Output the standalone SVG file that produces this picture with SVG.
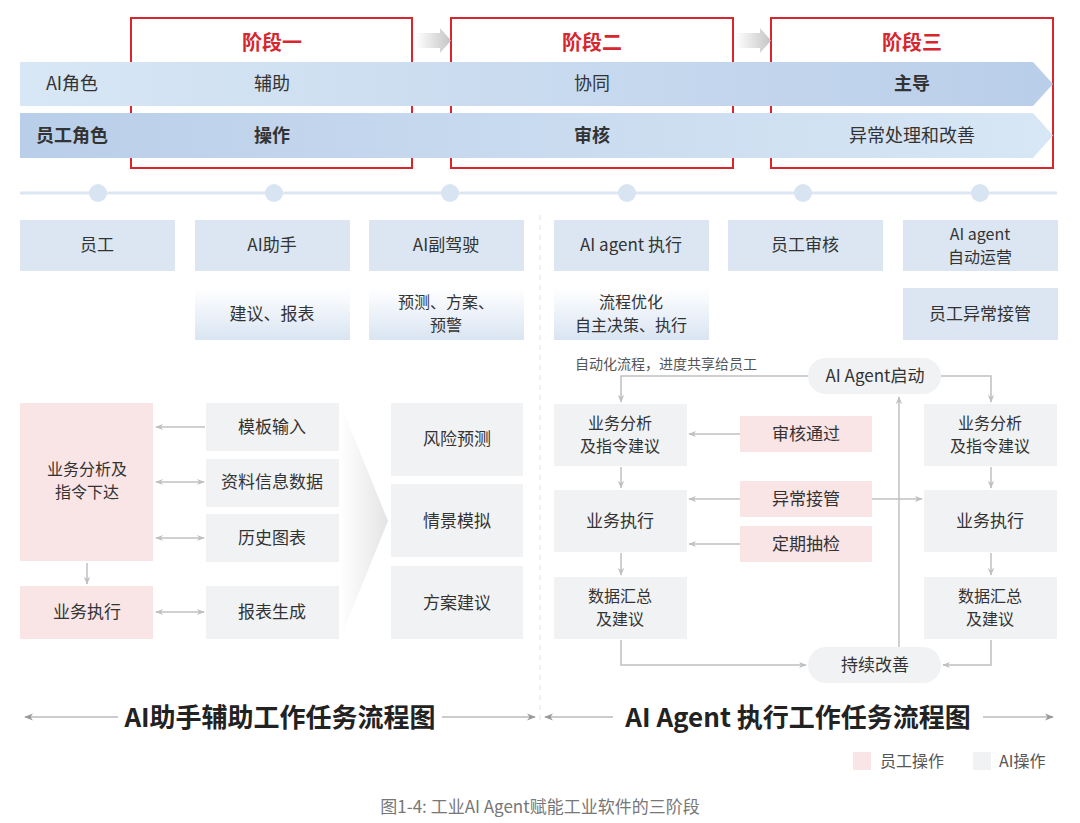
<svg xmlns="http://www.w3.org/2000/svg" width="1080" height="823" viewBox="0 0 1080 823">
<defs>
<linearGradient id="gAI" x1="0" y1="0" x2="1" y2="0"><stop offset="0" stop-color="#d8e7f5"/><stop offset="1" stop-color="#b9cee9"/></linearGradient>
<linearGradient id="gEmp" x1="0" y1="0" x2="1" y2="0"><stop offset="0" stop-color="#b9cee9"/><stop offset="1" stop-color="#d8e7f5"/></linearGradient>
<linearGradient id="gArr" x1="0" y1="0" x2="1" y2="0"><stop offset="0" stop-color="#ffffff"/><stop offset="1" stop-color="#c4c4c4"/></linearGradient>
<linearGradient id="gSub" x1="0" y1="0" x2="0" y2="1"><stop offset="0" stop-color="#ffffff"/><stop offset="1" stop-color="#d9e5f2"/></linearGradient>
<linearGradient id="gChev" x1="0" y1="0" x2="1" y2="0"><stop offset="0" stop-color="#ffffff"/><stop offset="1" stop-color="#e4e4e4"/></linearGradient>
<marker id="ah" viewBox="0 0 10 10" refX="9" refY="5" markerWidth="8" markerHeight="8" orient="auto-start-reverse" markerUnits="userSpaceOnUse"><path d="M0,1 L10,5 L0,9 L3,5 Z" fill="#c0c0c0"/></marker>
<marker id="ah2" viewBox="0 0 10 10" refX="9" refY="5" markerWidth="9" markerHeight="9" orient="auto-start-reverse" markerUnits="userSpaceOnUse"><path d="M0,1 L10,5 L0,9 L3,5 Z" fill="#999"/></marker>
<style>
text{font-family:"Noto Sans CJK SC","Noto Sans",sans-serif;fill:#333;text-anchor:middle;dominant-baseline:central}
.stage{fill:#fff;stroke:#d7262e;stroke-width:2}
.st{fill:#d7262e;font-size:20px;font-weight:bold}
.band{font-size:18px}
.b{font-weight:bold}
.blue{fill:#dbe6f2}
.sub{fill:url(#gSub)}
.gray{fill:#f1f2f4}
.pink{fill:#f9e4e6}
.t16{font-size:16px}
.t17{font-size:17px}
.conn{fill:none;stroke:#c0c0c0;stroke-width:1.5}
.title{font-size:26px;font-weight:bold;fill:#222}
</style>
</defs>
<rect width="1080" height="823" fill="#fff"/>

<g id="stages">
<rect class="stage" x="131" y="18" width="281" height="150"/>
<rect class="stage" x="451" y="18" width="282" height="150"/>
<rect class="stage" x="771" y="18" width="282" height="150"/>
<text class="st" x="272" y="41">阶段一</text>
<text class="st" x="592" y="41">阶段二</text>
<text class="st" x="912" y="41">阶段三</text>
<path d="M416,33 H440 V28 L451,40.5 L440,53 V48 H416 Z" fill="url(#gArr)"/>
<path d="M736,33 H760 V28 L771,40.5 L760,53 V48 H736 Z" fill="url(#gArr)"/>
</g>

<g id="bands">
<polygon points="20,62 1033,62 1053,84 1033,106 20,106" fill="url(#gAI)"/>
<polygon points="20,113 1033,113 1053,135.5 1033,158 20,158" fill="url(#gEmp)"/>
<text class="band" x="72" y="82">AI角色</text>
<text class="band" x="272" y="82">辅助</text>
<text class="band" x="592" y="82">协同</text>
<text class="band b" x="912" y="82">主导</text>
<text class="band b" x="72" y="134">员工角色</text>
<text class="band b" x="272" y="134">操作</text>
<text class="band b" x="592" y="134">审核</text>
<text class="band" x="912" y="134">异常处理和改善</text>
</g>

<g id="timeline">
<line x1="20" y1="193" x2="1057" y2="193" stroke="#dde7f3" stroke-width="3"/>
<g fill="#d8e4f1">
<circle cx="98" cy="193" r="9"/><circle cx="274" cy="193" r="9"/><circle cx="450" cy="193" r="9"/>
<circle cx="627" cy="193" r="9"/><circle cx="803" cy="193" r="9"/><circle cx="980" cy="193" r="9"/>
</g>
</g>

<g id="roles">
<g id="r1"><rect class="blue" x="20" y="220" width="155" height="51"/><text class="t17" x="97" y="243">员工</text></g>
<g id="r2"><rect class="blue" x="195" y="220" width="155" height="51"/><text class="t17" x="272" y="243">AI助手</text></g>
<g id="r3"><rect class="blue" x="369" y="220" width="155" height="51"/><text class="t17" x="446" y="243">AI副驾驶</text></g>
<g id="r4"><rect class="blue" x="554" y="220" width="155" height="51"/><text class="t17" x="631" y="243">AI agent 执行</text></g>
<g id="r5"><rect class="blue" x="728" y="220" width="155" height="51"/><text class="t17" x="805" y="243">员工审核</text></g>
<g id="r6"><rect class="blue" x="903" y="220" width="155" height="51"/><text class="t16" x="980" y="233">AI agent<tspan x="980" dy="23">自动运营</tspan></text></g>
<g id="s2"><rect class="sub" x="195" y="288" width="155" height="52"/><text class="t17" x="272" y="312">建议、报表</text></g>
<g id="s3"><rect class="sub" x="369" y="288" width="155" height="52"/><text class="t16" x="446" y="301">预测、方案、<tspan x="446" dy="23">预警</tspan></text></g>
<g id="s4"><rect class="sub" x="554" y="288" width="155" height="52"/><text class="t16" x="631" y="301">流程优化<tspan x="631" dy="23">自主决策、执行</tspan></text></g>
<g id="s6"><rect class="blue" x="903" y="288" width="155" height="52"/><text class="t17" x="980" y="312">员工异常接管</text></g>
</g>

<line id="divider" x1="540" y1="215" x2="540" y2="725" stroke="#e2e2e2" stroke-width="1" stroke-dasharray="5,5"/>

<g id="left-flow">
<polygon id="chevron" points="340,403 388,521 340,639" fill="url(#gChev)"/>
<g id="l1"><rect class="pink" x="20" y="403" width="133" height="158"/><text class="t16" x="87" y="468">业务分析及<tspan x="87" dy="23">指令下达</tspan></text></g>
<g id="l2"><rect class="pink" x="20" y="586" width="133" height="53"/><text class="t17" x="87" y="610">业务执行</text></g>
<g id="l3"><rect class="gray" x="206" y="403" width="133" height="48"/><text class="t17" x="272" y="425">模板输入</text></g>
<g id="l4"><rect class="gray" x="206" y="459" width="133" height="48"/><text class="t17" x="272" y="480">资料信息数据</text></g>
<g id="l5"><rect class="gray" x="206" y="514" width="133" height="48"/><text class="t17" x="272" y="536">历史图表</text></g>
<g id="l6"><rect class="gray" x="206" y="586" width="133" height="53"/><text class="t17" x="272" y="610">报表生成</text></g>
<g id="l7"><rect class="gray" x="391" y="403" width="132" height="73"/><text class="t17" x="457" y="437">风险预测</text></g>
<g id="l8"><rect class="gray" x="391" y="484" width="132" height="73"/><text class="t17" x="457" y="519">情景模拟</text></g>
<g id="l9"><rect class="gray" x="391" y="566" width="132" height="73"/><text class="t17" x="457" y="601">方案建议</text></g>
</g>

<g id="right-flow">
<g id="a0"><rect class="gray" x="808" y="358" width="133" height="36" rx="18"/><text class="t17" x="875" y="374">AI Agent启动</text></g>
<g id="a1"><rect class="gray" x="554" y="404" width="133" height="62"/><text class="t16" x="620" y="422">业务分析<tspan x="620" dy="23">及指令建议</tspan></text></g>
<g id="a2"><rect class="gray" x="554" y="490" width="133" height="62"/><text class="t17" x="620" y="519">业务执行</text></g>
<g id="a3"><rect class="gray" x="554" y="577" width="133" height="62"/><text class="t16" x="620" y="595">数据汇总<tspan x="620" dy="23">及建议</tspan></text></g>
<g id="b1"><rect class="gray" x="924" y="404" width="133" height="62"/><text class="t16" x="990" y="422">业务分析<tspan x="990" dy="23">及指令建议</tspan></text></g>
<g id="b2"><rect class="gray" x="924" y="490" width="133" height="62"/><text class="t17" x="990" y="519">业务执行</text></g>
<g id="b3"><rect class="gray" x="924" y="577" width="133" height="62"/><text class="t16" x="990" y="595">数据汇总<tspan x="990" dy="23">及建议</tspan></text></g>
<g id="p1"><rect class="pink" x="740" y="416" width="132" height="36"/><text class="t17" x="806" y="432">审核通过</text></g>
<g id="p2"><rect class="pink" x="740" y="481" width="132" height="36"/><text class="t17" x="806" y="497">异常接管</text></g>
<g id="p3"><rect class="pink" x="740" y="526" width="132" height="36"/><text class="t17" x="806" y="542">定期抽检</text></g>
<g id="a4"><rect class="gray" x="808" y="647" width="133" height="36" rx="18"/><text class="t17" x="875" y="663">持续改善</text></g>
<text x="575" y="363" style="font-size:14px;fill:#555;text-anchor:start">自动化流程，进度共享给员工</text>
</g>

<g id="connectors">
<line class="conn" x1="87" y1="563" x2="87" y2="584" marker-end="url(#ah)"/>
<line class="conn" x1="205" y1="427" x2="156" y2="427" marker-end="url(#ah)"/>
<line class="conn" x1="204" y1="482" x2="156" y2="482" marker-start="url(#ah)" marker-end="url(#ah)"/>
<line class="conn" x1="204" y1="538" x2="156" y2="538" marker-start="url(#ah)" marker-end="url(#ah)"/>
<line class="conn" x1="204" y1="612" x2="156" y2="612" marker-start="url(#ah)" marker-end="url(#ah)"/>
<polyline class="conn" points="808,376 621,376 621,402" marker-end="url(#ah)"/>
<polyline class="conn" points="941,376 991,376 991,402" marker-end="url(#ah)"/>
<line class="conn" x1="621" y1="467" x2="621" y2="488" marker-end="url(#ah)"/>
<line class="conn" x1="621" y1="553" x2="621" y2="575" marker-end="url(#ah)"/>
<line class="conn" x1="991" y1="467" x2="991" y2="488" marker-end="url(#ah)"/>
<line class="conn" x1="991" y1="553" x2="991" y2="575" marker-end="url(#ah)"/>
<line class="conn" x1="740" y1="434" x2="689" y2="434" marker-end="url(#ah)"/>
<line class="conn" x1="740" y1="499" x2="689" y2="499" marker-end="url(#ah)"/>
<line class="conn" x1="740" y1="544" x2="689" y2="544" marker-end="url(#ah)"/>
<line class="conn" x1="872" y1="499" x2="922" y2="499" marker-end="url(#ah)"/>
<polyline class="conn" points="621,640 621,665 806,665" marker-end="url(#ah)"/>
<polyline class="conn" points="991,640 991,665 943,665" marker-end="url(#ah)"/>
<line class="conn" x1="899" y1="647" x2="899" y2="397" marker-end="url(#ah)"/>
</g>

<g id="bottom-titles">
<line x1="25" y1="717" x2="535" y2="717" stroke="#999" stroke-width="1" marker-start="url(#ah2)" marker-end="url(#ah2)"/>
<line x1="545" y1="717" x2="1053" y2="717" stroke="#999" stroke-width="1" marker-start="url(#ah2)" marker-end="url(#ah2)"/>
<rect x="118" y="700" width="324" height="34" fill="#fff"/>
<rect x="613" y="700" width="370" height="34" fill="#fff"/>
<text class="title" x="280" y="715">AI助手辅助工作任务流程图</text>
<text class="title" x="798" y="715">AI Agent 执行工作任务流程图</text>
</g>

<g id="legend">
<rect class="pink" x="853" y="752" width="18" height="18"/>
<text x="880" y="760" style="font-size:16px;fill:#555;text-anchor:start">员工操作</text>
<rect class="gray" x="973" y="752" width="18" height="18"/>
<text x="999" y="760" style="font-size:16px;fill:#555;text-anchor:start">AI操作</text>
</g>

<text id="caption" x="540" y="805" style="font-size:17px;fill:#777">图1-4: 工业AI Agent赋能工业软件的三阶段</text>
</svg>
